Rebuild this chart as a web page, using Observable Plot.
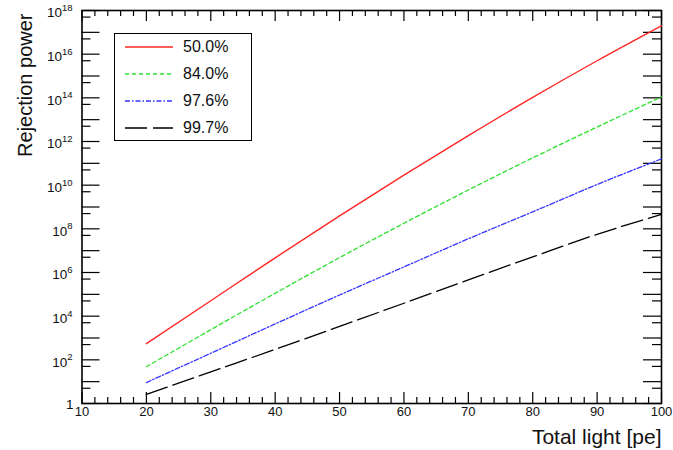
<!DOCTYPE html>
<html><head><meta charset="utf-8">
<script src="https://cdn.jsdelivr.net/npm/d3@7"></script>
<script src="https://cdn.jsdelivr.net/npm/@observablehq/plot@0.6"></script>
<style>
body{margin:0;background:#fff;}
#wrap{position:relative;width:673px;height:450px;font-family:"Liberation Sans",Arial,Helvetica,sans-serif;}
#legend{position:absolute;left:114px;top:33px;width:136px;height:106px;border:1.5px solid #000;background:#fff;}
.row{position:absolute;left:0;height:20px;width:136px;}
.row svg{position:absolute;left:10px;top:0;}
.row span{position:absolute;left:68px;top:1px;font-size:16px;line-height:18px;color:#111;}
</style></head><body><div id="wrap"></div>
<script>
// ---- data ----
const light = [20, 30, 40, 50, 60, 70, 80, 90, 100];
const seriesNames = ["50.0%", "84.0%", "97.6%", "99.7%"];
const rej500 = [5.5e2, 5.1e4, 4.7e6, 3.9e8, 2.9e10, 1.86e12, 1.05e14, 5.0e15, 2.0e17];
const rej840 = [48, 2.4e3, 1.12e5, 4.8e6, 1.8e8, 6.0e9, 1.78e11, 4.6e12, 1.1e14];
const rej976 = [9.1, 2.0e2, 4.4e3, 9.3e4, 1.8e6, 3.5e7, 6.0e8, 1.07e10, 1.6e11];
const rej997 = [2.6, 28, 3.0e2, 3.4e3, 3.9e4, 4.6e5, 5.2e6, 5.6e7, 4.6e8];
const xTickLabels = [10, 20, 30, 40, 50, 60, 70, 80, 90, 100];
const yExponents = [2, 4, 6, 8, 10, 12, 14, 16, 18];

// ---- styles ----
const colors = ["#ff2626", "#2ee02e", "#3535ff", "#000000"];
const dashes = [null, "4,3", "5,2,1.5,2", "22,6"];
const widths = [1.4, 1.3, 1.3, 1.3];

const W = 673, H = 450, mL = 81.5, mR = 12, mT = 10, mB = 47;
const plotW = W - mL - mR, plotH = H - mT - mB;

const xMajor = xTickLabels;
const xMinor = d3.range(10, 101, 2).filter(v => v % 10 !== 0);
const yDecades = d3.range(0, 19).map(k => 10 ** k);
const yHalves = d3.range(0, 18).map(k => 5 * 10 ** k);

const allSeries = [rej500, rej840, rej976, rej997];
const lineMarks = allSeries.map((vals, i) =>
  Plot.line(light.map((x, j) => ({x, y: vals[j]})), {
    x: "x", y: "y", curve: "monotone-x",
    stroke: colors[i], strokeWidth: widths[i], strokeDasharray: dashes[i]
  })
);

const tk = {stroke: "#000", strokeWidth: 1.2};
const single = yExponents.filter(k => k < 10);
const double = yExponents.filter(k => k >= 10);

const chart = Plot.plot({
  width: W, height: H,
  marginLeft: mL, marginRight: mR, marginTop: mT, marginBottom: mB,
  style: {fontFamily: '"Liberation Sans", Arial, Helvetica, sans-serif', background: "white", color: "#111"},
  x: {domain: [10, 100], axis: null},
  y: {type: "log", domain: [1, 1e18], axis: null},
  marks: [
    // x ticks bottom & top
    Plot.ruleX(xMajor, {x: d => d, insetTop: plotH - 11, ...tk}),
    Plot.ruleX(xMinor, {x: d => d, insetTop: plotH - 6, ...tk}),
    Plot.ruleX(xMajor, {x: d => d, insetBottom: plotH - 11, ...tk}),
    Plot.ruleX(xMinor, {x: d => d, insetBottom: plotH - 6, ...tk}),
    // y ticks left & right
    Plot.ruleY(yDecades, {y: d => d, insetRight: plotW - 18, ...tk}),
    Plot.ruleY(yHalves, {y: d => d, insetRight: plotW - 9, ...tk}),
    Plot.ruleY(yDecades, {y: d => d, insetLeft: plotW - 18, ...tk}),
    Plot.ruleY(yHalves, {y: d => d, insetLeft: plotW - 9, ...tk}),
    Plot.frame({stroke: "#000", strokeWidth: 1.6}),
    ...lineMarks,
    // x tick labels
    Plot.text(xTickLabels, {x: d => d, text: d => String(d), frameAnchor: "bottom", dy: 12, fontSize: 13}),
    // y tick labels
    Plot.text([1], {y: d => d, text: () => "1", frameAnchor: "left", textAnchor: "end", dx: -8.5, dy: 1, fontSize: 13.5}),
    Plot.text(single, {y: k => 10 ** k, text: () => "10", frameAnchor: "left", textAnchor: "end", dx: -14.8, dy: 2.5, fontSize: 13.5}),
    Plot.text(double, {y: k => 10 ** k, text: () => "10", frameAnchor: "left", textAnchor: "end", dx: -20, dy: 2.5, fontSize: 13.5}),
    Plot.text(yExponents, {y: k => 10 ** k, text: k => String(k), frameAnchor: "left", textAnchor: "end", dx: -9.5, dy: -2.5, fontSize: 9.5}),
    // axis titles
    Plot.text(["Total light [pe]"], {text: d => d, frameAnchor: "bottom-right", textAnchor: "end", lineAnchor: "bottom", dy: 40.5, fontSize: 21}),
    Plot.text(["Rejection power"], {text: d => d, frameAnchor: "top-left", rotate: -90, textAnchor: "end", lineAnchor: "bottom", dx: -50, dy: 3, fontSize: 20})
  ]
});

const wrap = document.getElementById("wrap");
wrap.appendChild(chart);

// legend (HTML overlay inside the frame)
const legend = document.createElement("div");
legend.id = "legend";
const rowTops = [3, 30, 57, 84];
seriesNames.forEach((name, i) => {
  const row = document.createElement("div");
  row.className = "row";
  row.style.top = rowTops[i] + "px";
  const svg = d3.create("svg").attr("width", 48).attr("height", 20);
  svg.append("line").attr("x1", 0).attr("x2", 48).attr("y1", 10).attr("y2", 10)
    .attr("stroke", colors[i]).attr("stroke-width", widths[i])
    .attr("stroke-dasharray", dashes[i]);
  row.appendChild(svg.node());
  const span = document.createElement("span");
  span.textContent = name;
  row.appendChild(span);
  legend.appendChild(row);
});
wrap.appendChild(legend);
</script>
</body></html>
